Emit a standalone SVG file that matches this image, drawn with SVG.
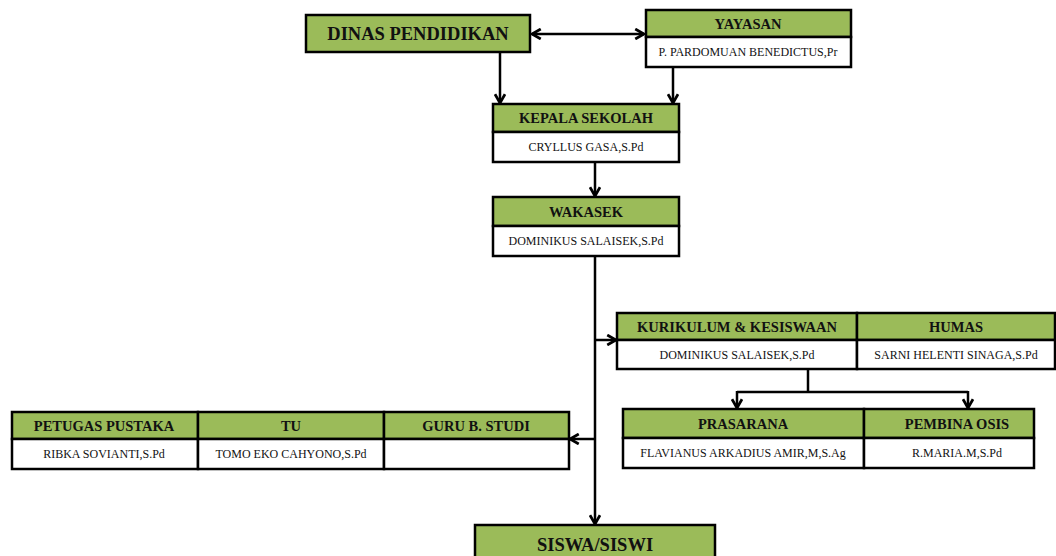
<svg xmlns="http://www.w3.org/2000/svg" width="1056" height="556" viewBox="0 0 1056 556">
<style>
.h{fill:#9BBB59;stroke:#000;stroke-width:2.5}
.w{fill:#fff;stroke:#000;stroke-width:2.5}
.ht{font-family:"Liberation Serif",serif;font-weight:bold;font-size:14.5px;fill:#111;text-anchor:middle}
.big{font-family:"Liberation Serif",serif;font-weight:bold;font-size:18.5px;fill:#111;text-anchor:middle}
.wt{font-family:"Liberation Serif",serif;font-size:12px;fill:#111;text-anchor:middle}
.c{fill:none;stroke:#000;stroke-width:2.5}
</style>
<defs>
<marker id="ar" viewBox="0 0 10 10" refX="9" refY="5" markerWidth="5" markerHeight="5" orient="auto-start-reverse" markerUnits="strokeWidth">
<polyline points="2,1 9,5 2,9" fill="none" stroke="#000" stroke-width="2.2"/>
</marker>
</defs>
<g id="connectors">
<line class="c" x1="532" y1="34" x2="644" y2="34" marker-start="url(#ar)" marker-end="url(#ar)"/>
<line class="c" x1="500" y1="52" x2="500" y2="103" marker-end="url(#ar)"/>
<line class="c" x1="673" y1="67" x2="673" y2="103" marker-end="url(#ar)"/>
<line class="c" x1="595" y1="162" x2="595" y2="196" marker-end="url(#ar)"/>
<line class="c" x1="595" y1="256" x2="595" y2="524" marker-end="url(#ar)"/>
<line class="c" x1="595" y1="340" x2="616" y2="340" marker-end="url(#ar)"/>
<line class="c" x1="595" y1="439" x2="570" y2="439" marker-end="url(#ar)"/>
<polyline class="c" points="808,369 808,392"/>
<line class="c" x1="737" y1="392" x2="968" y2="392"/>
<line class="c" x1="737" y1="391" x2="737" y2="408" marker-end="url(#ar)"/>
<line class="c" x1="968" y1="391" x2="968" y2="408" marker-end="url(#ar)"/>
</g>
<g id="dinas">
<rect class="h" x="306" y="15" width="224" height="37"/>
<text class="big" x="418" y="40">DINAS PENDIDIKAN</text>
</g>
<g id="yayasan">
<rect class="h" x="646" y="10" width="205" height="27"/>
<rect class="w" x="646" y="37" width="205" height="30"/>
<text class="ht" x="748" y="29">YAYASAN</text>
<text class="wt" x="748" y="56">P. PARDOMUAN BENEDICTUS,Pr</text>
</g>
<g id="kepala">
<rect class="h" x="493" y="104" width="186" height="28"/>
<rect class="w" x="493" y="132" width="186" height="30"/>
<text class="ht" x="586" y="123">KEPALA SEKOLAH</text>
<text class="wt" x="586" y="151">CRYLLUS GASA,S.Pd</text>
</g>
<g id="wakasek">
<rect class="h" x="493" y="197" width="186" height="29"/>
<rect class="w" x="493" y="226" width="186" height="30"/>
<text class="ht" x="586" y="217">WAKASEK</text>
<text class="wt" x="586" y="245">DOMINIKUS SALAISEK,S.Pd</text>
</g>
<g id="kurikulum">
<rect class="h" x="617" y="313" width="240" height="27"/>
<rect class="w" x="617" y="340" width="240" height="29"/>
<text class="ht" x="737" y="332">KURIKULUM &amp; KESISWAAN</text>
<text class="wt" x="737" y="359">DOMINIKUS SALAISEK,S.Pd</text>
</g>
<g id="humas">
<rect class="h" x="857" y="313" width="198" height="27"/>
<rect class="w" x="857" y="340" width="198" height="29"/>
<text class="ht" x="956" y="332">HUMAS</text>
<text class="wt" x="956" y="359">SARNI HELENTI SINAGA,S.Pd</text>
</g>
<g id="prasarana">
<rect class="h" x="623" y="409" width="241" height="29"/>
<rect class="w" x="623" y="438" width="241" height="30"/>
<text class="ht" x="743" y="429">PRASARANA</text>
<text class="wt" x="743" y="457">FLAVIANUS ARKADIUS AMIR,M,S.Ag</text>
</g>
<g id="pembina">
<rect class="h" x="864" y="409" width="170" height="29"/>
<rect class="w" x="864" y="438" width="170" height="30"/>
<text class="ht" x="957" y="429">PEMBINA OSIS</text>
<text class="wt" x="957" y="457">R.MARIA.M,S.Pd</text>
</g>
<g id="petugas">
<rect class="h" x="12" y="412" width="186" height="27"/>
<rect class="w" x="12" y="439" width="186" height="30"/>
<text class="ht" x="104" y="431">PETUGAS PUSTAKA</text>
<text class="wt" x="104" y="458">RIBKA SOVIANTI,S.Pd</text>
</g>
<g id="tu">
<rect class="h" x="198" y="412" width="186" height="27"/>
<rect class="w" x="198" y="439" width="186" height="30"/>
<text class="ht" x="291" y="431">TU</text>
<text class="wt" x="291" y="458">TOMO EKO CAHYONO,S.Pd</text>
</g>
<g id="guru">
<rect class="h" x="384" y="412" width="185" height="27"/>
<rect class="w" x="384" y="439" width="185" height="30"/>
<text class="ht" x="476" y="431">GURU B. STUDI</text>
</g>
<g id="siswa">
<rect class="h" x="475" y="525" width="240" height="40"/>
<text class="big" x="595" y="551">SISWA/SISWI</text>
</g>
</svg>
